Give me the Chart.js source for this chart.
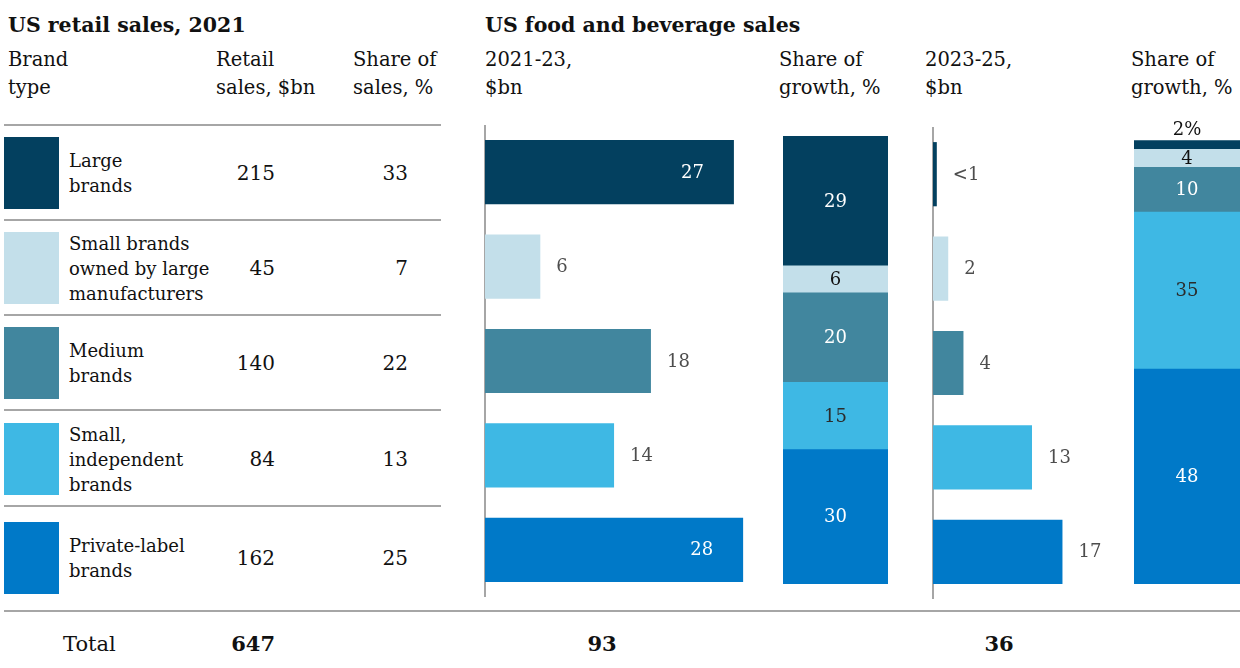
<!DOCTYPE html>
<html>
<head>
<meta charset="utf-8">
<title>US retail and food and beverage sales by brand type</title>
<script src="https://cdn.jsdelivr.net/npm/chart.js@4.4.1/dist/chart.umd.min.js"></script>
<style>
  body { margin: 0; background: #fff; }
  #page { position: relative; width: 1240px; height: 668px; overflow: hidden; font-family: 'DejaVu Serif', serif; color: #111; }
  .abs { position: absolute; white-space: nowrap; }
  canvas { position: absolute; }
</style>
</head>
<body>
<div id="page">
  <canvas id="sales2123Chart" width="297" height="472" style="left:483px; top:125px;"></canvas>
  <canvas id="growth2123Chart" width="105" height="448" style="left:783px; top:136px;"></canvas>
  <canvas id="sales2325Chart" width="200" height="472" style="left:931px; top:127px;"></canvas>
  <canvas id="growth2325Chart" width="106" height="468" style="left:1134px; top:116px;"></canvas>
</div>
<script>
// data
const brandTypes = ['Large brands', 'Small brands owned by large manufacturers', 'Medium brands', 'Small, independent brands', 'Private-label brands'];
const brandLines = [['Large', 'brands'], ['Small brands', 'owned by large', 'manufacturers'], ['Medium', 'brands'], ['Small,', 'independent', 'brands'], ['Private-label', 'brands']];
const retailSales2021 = [215, 45, 140, 84, 162];
const shareOfSales2021 = [33, 7, 22, 13, 25];
const sales2123 = [27, 6, 18, 14, 28];
const growthShare2123 = [29, 6, 20, 15, 30];
const sales2325 = [0.5, 2, 4, 13, 17];
const growthShare2325 = [2, 4, 10, 35, 48];
const totalRetail2021 = 647;
const totalSales2123 = 93;
const totalSales2325 = 36;

const brandColors = ['#03405F', '#C3DFEA', '#41869E', '#3EB8E4', '#0079C8'];
const stackTextColors = ['#ffffff', '#111111', '#ffffff', '#2b2b2b', '#ffffff'];
const rowCenters = [173, 268, 363, 459, 558];

Chart.defaults.font.family = "'DejaVu Serif', serif";
Chart.defaults.animation = false;

const page = document.getElementById('page');

function place(html, css) {
  const d = document.createElement('div');
  d.className = 'abs';
  d.innerHTML = html;
  Object.assign(d.style, css);
  page.appendChild(d);
  return d;
}

// titles and column headers
place('US retail sales, 2021', {left: '8px', top: '12px', font: 'bold 20.5px/26px "DejaVu Serif"'});
place('US food and beverage sales', {left: '485px', top: '12px', font: 'bold 20.5px/26px "DejaVu Serif"'});
const headers = [['Brand<br>type', 8], ['Retail<br>sales, $bn', 216], ['Share of<br>sales, %', 353],
  ['2021-23,<br>$bn', 485], ['Share of<br>growth, %', 779], ['2023-25,<br>$bn', 925], ['Share of<br>growth, %', 1131]];
headers.forEach(h => place(h[0], {left: h[1] + 'px', top: '46px', font: '19.5px/28px "DejaVu Serif"'}));

// table rules
[124, 219, 314, 409, 505].forEach(y => place('', {left: '4px', top: y + 'px', width: '437px', height: '2px', background: '#A6A6A6'}));
place('', {left: '4px', top: '610px', width: '1236px', height: '2px', background: '#A6A6A6'});

// table rows
brandTypes.forEach((b, i) => {
  const c = rowCenters[i];
  place('', {left: '4px', top: (c - 36) + 'px', width: '55px', height: '72px', background: brandColors[i]});
  place(brandLines[i].join('<br>'), {left: '69px', top: (c - 50) + 'px', height: '100px', display: 'flex',
    alignItems: 'center', font: '18px/25px "DejaVu Serif"'});
  place(String(retailSales2021[i]), {left: '175px', width: '100px', textAlign: 'right', top: (c - 15) + 'px',
    font: '20px/30px "DejaVu Serif"'});
  place(String(shareOfSales2021[i]), {left: '308px', width: '100px', textAlign: 'right', top: (c - 15) + 'px',
    font: '20px/30px "DejaVu Serif"'});
});

// totals
place('Total', {left: '63px', top: '629px', font: '21px/30px "DejaVu Serif"'});
place(String(totalRetail2021), {left: '175px', width: '100px', textAlign: 'right', top: '629px', font: 'bold 21px/30px "DejaVu Serif"'});
place(String(totalSales2123), {left: '552px', width: '100px', textAlign: 'center', top: '629px', font: 'bold 21px/30px "DejaVu Serif"'});
place(String(totalSales2325), {left: '949px', width: '100px', textAlign: 'center', top: '629px', font: 'bold 21px/30px "DejaVu Serif"'});

// value labels on the horizontal bars
const barValueLabels = {
  id: 'barValueLabels',
  afterDatasetsDraw(chart) {
    const ctx = chart.ctx;
    ctx.save();
    ctx.font = '18px "DejaVu Serif"';
    ctx.textBaseline = 'middle';
    chart.data.datasets.forEach((ds, di) => {
      chart.getDatasetMeta(di).data.forEach((bar, i) => {
        const v = ds.data[i];
        const txt = v < 1 ? '<1' : String(v);
        if (bar.x - bar.base > 200) {
          ctx.fillStyle = '#ffffff';
          ctx.textAlign = 'right';
          ctx.fillText(txt, bar.x - 30, bar.y + 1);
        } else {
          ctx.fillStyle = '#4d4d4d';
          ctx.textAlign = 'left';
          ctx.fillText(txt, bar.x + 16, bar.y + 1);
        }
      });
    });
    ctx.restore();
  }
};

// labels in the stacked share bars
const stackLabels = {
  id: 'stackLabels',
  afterDatasetsDraw(chart) {
    const ctx = chart.ctx;
    ctx.save();
    ctx.font = '18px "DejaVu Serif"';
    ctx.textAlign = 'center';
    ctx.textBaseline = 'middle';
    chart.data.datasets.forEach((ds, di) => {
      const bar = chart.getDatasetMeta(di).data[0];
      const v = ds.data[0];
      if (bar.base - bar.y < 14) {
        ctx.fillStyle = '#111111';
        ctx.fillText(v + '%', bar.x, bar.y - 10);
      } else {
        ctx.fillStyle = ds.textColor;
        ctx.fillText(String(v), bar.x, (bar.y + bar.base) / 2 + 1);
      }
    });
    ctx.restore();
  }
};

function hBarChart(id, values, maxX) {
  return new Chart(document.getElementById(id), {
    type: 'bar',
    data: {
      labels: brandTypes,
      datasets: [{
        data: values,
        backgroundColor: brandColors,
        barPercentage: 0.68,
        categoryPercentage: 1
      }]
    },
    options: {
      indexAxis: 'y',
      responsive: false,
      events: [],
      layout: { padding: { left: 2 } },
      scales: {
        x: { display: false, min: 0, max: maxX },
        y: {
          grid: { display: false, drawTicks: false },
          border: { display: true, color: '#A6A6A6', width: 2 },
          ticks: { display: false }
        }
      },
      plugins: { legend: { display: false }, tooltip: { enabled: false } }
    },
    plugins: [barValueLabels]
  });
}

function stackChart(id, values, padTop) {
  // first dataset sits at the bottom, so stack in reverse order
  const datasets = brandTypes.map((b, i) => ({
    label: b,
    data: [values[i]],
    backgroundColor: brandColors[i],
    textColor: stackTextColors[i],
    barPercentage: 1,
    categoryPercentage: 1
  })).reverse();
  return new Chart(document.getElementById(id), {
    type: 'bar',
    data: { labels: ['Share of growth'], datasets: datasets },
    options: {
      responsive: false,
      events: [],
      layout: { padding: { top: padTop } },
      scales: {
        x: { display: false, stacked: true },
        y: { display: false, stacked: true, min: 0, max: 100 }
      },
      plugins: { legend: { display: false }, tooltip: { enabled: false } }
    },
    plugins: [stackLabels]
  });
}

hBarChart('sales2123Chart', sales2123, 32);
stackChart('growth2123Chart', growthShare2123, 0);
hBarChart('sales2325Chart', sales2325, 26);
stackChart('growth2325Chart', growthShare2325, 20);
</script>
</body>
</html>
